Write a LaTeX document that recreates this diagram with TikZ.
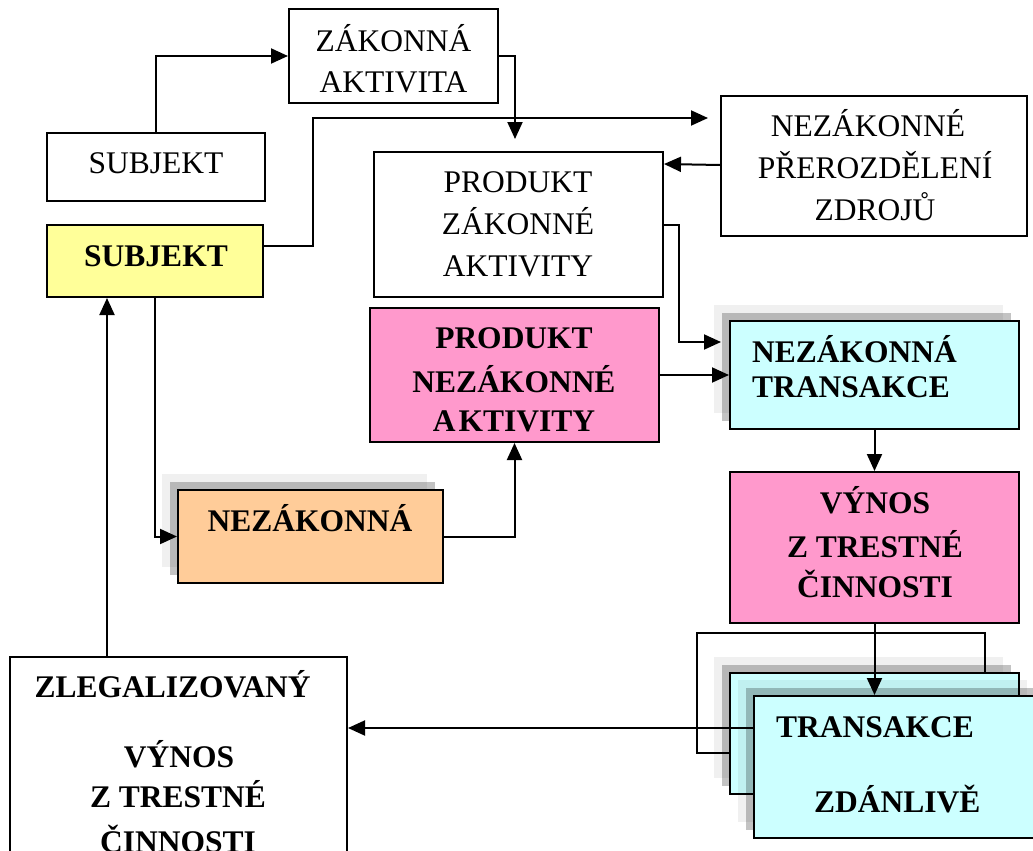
\documentclass[tikz,border=0pt]{standalone}
\usepackage{fontspec}
\setmainfont{Liberation Serif}
\usetikzlibrary{arrows.meta}
\definecolor{cyel}{HTML}{FFFF99}
\definecolor{cpink}{HTML}{FF99CC}
\definecolor{ccyan}{HTML}{CCFFFF}
\definecolor{corange}{HTML}{FFCC99}
\begin{document}
\begin{tikzpicture}[x=1pt,y=-1pt,
  box/.style={draw, line width=2pt, inner sep=0pt, fill=white},
  conn/.style={line width=2pt},
  arr/.style={conn, -{Triangle[length=17pt,width=15pt]}},
  lshadow/.style={fill=black, fill opacity=0.06},
  dshadow/.style={fill=black, fill opacity=0.234},
  lbl/.style={anchor=base, inner sep=0pt, font=\fontsize{31.5}{40}\selectfont},
  blbl/.style={lbl, font=\fontsize{31.5}{40}\selectfont\bfseries},
  lblw/.style={lbl, anchor=base west},
  blblw/.style={blbl, anchor=base west}
]
\useasboundingbox (0,0) rectangle (1033,851);
\clip (0,0) rectangle (1033,851);

% ---------- boxes ----------
\node[box, minimum width=209pt, minimum height=94pt] (zak) at (393.5,56) {};
\node[box, minimum width=218pt, minimum height=68pt] (subj1) at (156,167) {};
\node[box, fill=cyel, minimum width=216pt, minimum height=72pt] (subj2) at (155,261) {};
\node[box, minimum width=306pt, minimum height=140pt] (nez) at (874,165.5) {};
\node[box, minimum width=289pt, minimum height=145pt] (pza) at (518.5,224.5) {};
\node[box, fill=cpink, minimum width=289pt, minimum height=134pt] (pna) at (514.5,375) {};

% NEZAKONNA TRANSAKCE with shadow
\fill[lshadow] (714,305) rectangle (1003,413);
\fill[dshadow] (722,313) rectangle (1011,421);
\node[box, fill=ccyan, minimum width=289pt, minimum height=108pt] (nt) at (874.5,375) {};

% orange box with shadow
\fill[lshadow] (162,474) rectangle (427,567);
\fill[dshadow] (170,482) rectangle (435,575);
\node[box, fill=corange, minimum width=265pt, minimum height=93pt] (ora) at (310.5,536.5) {};

\node[box, fill=cpink, minimum width=289pt, minimum height=151pt] (vyn) at (874.5,547.5) {};

% stacked TRANSAKCE boxes
\node[box, minimum width=288pt, minimum height=120pt] (brk) at (841,693) {};
\fill[lshadow] (714,657) rectangle (1003,778);
\fill[dshadow] (722,665) rectangle (1011,786);
\node[box, fill=ccyan, minimum width=289pt, minimum height=121pt] (tzb) at (874.5,733.5) {};
\fill[lshadow] (738,680) rectangle (1027,822);
\fill[dshadow] (746,688) rectangle (1035,830);
\node[box, fill=ccyan, minimum width=289pt, minimum height=142pt] (tzf) at (898.5,767) {};

\node[box, minimum width=337pt, minimum height=242pt] (zleg) at (178.5,778) {};

% ---------- texts ----------
\node[lbl] (t1) at (393.5,51.5) {ZÁKONNÁ};
\node[lbl] (t2) at (393.5,92.5) {AKTIVITA};
\node[lbl] (t3) at (156,173.5) {SUBJEKT};
\node[blbl] (t4) at (156,266.5) {SUBJEKT};
\node[lbl] (t5) at (868,136.5) {NEZÁKONNÉ};
\node[lbl] (t6) at (875,178.5) {PŘEROZDĚLENÍ};
\node[lbl] (t7) at (875,220.5) {ZDROJŮ};
\node[lbl] (t8) at (518,192.5) {PRODUKT};
\node[lbl] (t9) at (518,234.5) {ZÁKONNÉ};
\node[lbl] (t10) at (518,276.5) {AKTIVITY};
\node[blbl] (t11) at (514,348.5) {PRODUKT};
\node[blbl] (t12) at (514,392) {NEZÁKONNÉ};
\node[blbl] (t13) at (514,431) {A\kern3pt KTIVITY};
\node[blblw] (t14) at (752,362) {NEZÁKONNÁ};
\node[blblw] (t15) at (752,397) {TRANSAKCE};
\node[blbl] (t16) at (310,531) {NEZÁKONNÁ};
\node[blbl] (t17) at (875,513) {VÝNOS};
\node[blbl] (t18) at (875,557) {Z TRESTNÉ};
\node[blbl] (t19) at (875,597) {ČINNOSTI};
\node[blblw] (t20) at (776,737.5) {TRANSAKCE};
\node[blblw] (t21) at (814,812.5) {ZDÁNLIVĚ};
\node[blbl] (t22) at (172.5,697) {ZLEGALIZOVANÝ};
\node[blbl] (t23) at (179,767) {VÝNOS};
\node[blbl] (t24) at (178,807) {Z TRESTNÉ};
\node[blbl] (t25) at (178,852) {ČINNOSTI};

% ---------- connectors ----------
\draw[arr] (subj1.north) |- (zak.west);
\draw[arr, shorten >=12pt] (zak.east) -| (515,0 |- pza.north);
\draw[arr, shorten >=12pt] (subj2.east |- 0,246) -| (313,118) -- (nez.west |- 0,118);
\draw[arr] (nez.west |- 0,165) -- (pza.east |- 0,164);
\draw[arr, shorten >=8pt] (pza.east |- 0,225) -| (679,342) -- (nt.west |- 0,342);
\draw[arr] (pna.east) -- (nt.west);
\draw[arr] (nt.south) -- (vyn.north);
\draw[arr] (vyn.south) -- (tzf.north -| vyn.south);
\draw[arr] (subj2.south) |- (ora.west);
\draw[arr] (ora.east) -| (pna.south);
\draw[arr] (zleg.north -| 107,0) -- (subj2.south -| 107,0);
\draw[arr] (tzf.west |- 0,728) -- (zleg.east |- 0,728);
\end{tikzpicture}
\end{document}
